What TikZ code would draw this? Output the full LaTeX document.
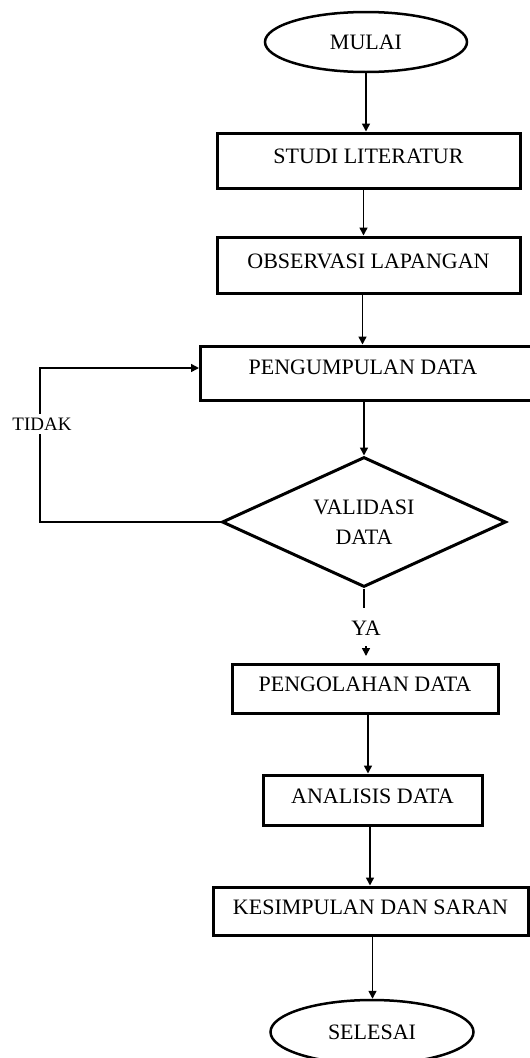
\documentclass[tikz,border=0pt]{standalone}
\usepackage{fontspec}
\setmainfont{Liberation Serif}
\usetikzlibrary{arrows.meta,shapes.geometric,calc}
\begin{document}
\begin{tikzpicture}[x=1pt,y=-1pt,
  txt/.style={font=\fontsize{22}{30}\selectfont},
  procbox/.style={draw, line width=3pt, rectangle, inner sep=0pt, txt, text depth=8pt},
  termin/.style={draw, line width=2.5pt, ellipse, inner sep=0pt, txt},
  decide/.style={draw, line width=3pt, diamond, aspect=2.18, inner sep=0pt, txt, align=center},
  arr/.style={line width=1.5pt, -{Triangle[length=8pt,width=8pt]}},
  plain/.style={line width=1.5pt}
]
\useasboundingbox (0,0) rectangle (530,1058);
\clip (0,0) rectangle (530,1058);

\node[termin, minimum width=202pt, minimum height=60pt] (mulai) at (366,42) {MULAI};
\node[procbox, minimum width=303pt, minimum height=55pt] (studi) at (368.5,160.5) {STUDI LITERATUR};
\node[procbox, minimum width=303pt, minimum height=56pt] (obs) at (368.5,265) {OBSERVASI LAPANGAN};
\node[procbox, minimum width=345pt, minimum height=54pt, anchor=west] (kumpulbox) at (199,373) {};
\node[txt, inner sep=0pt] (kumpultxt) at (363,367) {PENGUMPULAN DATA};
\node[decide, minimum width=284pt, minimum height=130pt] (dia) at (364,522) {VALIDASI\\DATA};
\node[txt, inner sep=1pt] (ya) at (366,628) {YA};
\node[procbox, minimum width=266pt, minimum height=49pt] (olah) at (365,688.5) {PENGOLAHAN DATA};
\node[procbox, minimum width=219pt, minimum height=50pt] (anal) at (372.5,800) {ANALISIS DATA};
\node[procbox, minimum width=315pt, minimum height=48pt] (kes) at (370.5,911) {KESIMPULAN DAN SARAN};
\node[termin, minimum width=203pt, minimum height=64pt] (selesai) at (372,1032) {SELESAI};

% main flow
\draw[arr] (mulai.south) -- (mulai.south |- studi.north);
\draw[arr] ([xshift=-5pt]studi.south) -- ([xshift=-5pt]studi.south |- obs.north);
\draw[arr] ([xshift=-6pt]obs.south) -- ([xshift=-6pt]obs.south |- kumpulbox.north);
\draw[arr] (dia.north |- kumpulbox.south) -- (dia.north);
\coordinate (yaTop) at (364,608);
\draw[plain] (dia.south) -- (yaTop);
\coordinate (yaTail) at (366,646);
\coordinate (yaTip) at (366,656);
\draw[arr] (yaTail) -- (yaTip);
\draw[arr] ([xshift=3pt]olah.south) -- ([xshift=3pt]olah.south |- anal.north);
\draw[arr] ([xshift=-2.5pt]anal.south) -- ([xshift=-2.5pt]anal.south |- kes.north);
\draw[arr] ([xshift=2pt]kes.south) -- ([xshift=2pt]kes.south |- selesai.north);

% feedback loop
\coordinate (fbA) at (40,522);
\coordinate (fbB) at (40,368);
\draw[arr] (dia.west) -- (fbA) -- (fbB) -- (fbB -| kumpulbox.west);
\node[fill=white, inner xsep=0pt, inner ysep=4pt, font=\fontsize{19}{22}\selectfont] (tidak) at (42,424) {TIDAK};
\end{tikzpicture}
\end{document}
